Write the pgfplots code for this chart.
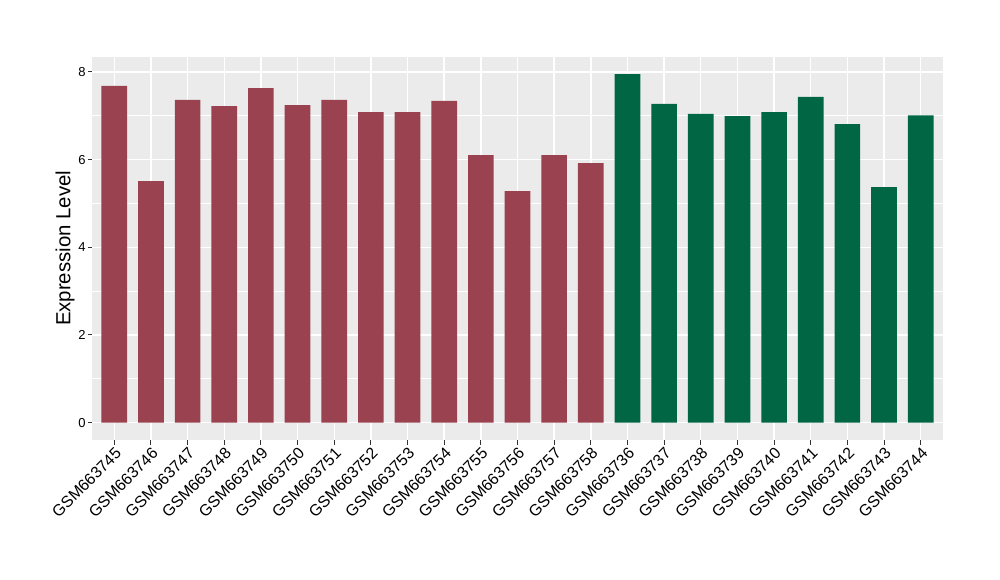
\documentclass[border=0pt]{standalone}
\usepackage{pgfplots}
\pgfplotsset{compat=1.18}
\usepackage{fontspec}
\setmainfont{Liberation Sans}
\definecolor{ggbg}{HTML}{EBEBEB}
\definecolor{barred}{HTML}{9A4250}
\definecolor{bargreen}{HTML}{006644}
\definecolor{tickgrey}{HTML}{333333}
\begin{document}
\begin{tikzpicture}
\useasboundingbox (-69.225pt,-105pt) rectangle (680.775pt,330pt);
\begin{axis}[
  at={(0,0)}, anchor=south west,
  scale only axis,
  width=637.8pt, height=287.5pt,
  xmin=0.4, xmax=23.6,
  ymin=-0.3975, ymax=8.3475,
  ybar, bar width=0.7, bar shift=0pt,
  axis background/.style={fill=ggbg},
  axis line style={draw=none},
  xtick={1,...,23},
  xticklabels={GSM663745,GSM663746,GSM663747,GSM663748,GSM663749,GSM663750,GSM663751,GSM663752,GSM663753,GSM663754,GSM663755,GSM663756,GSM663757,GSM663758,GSM663736,GSM663737,GSM663738,GSM663739,GSM663740,GSM663741,GSM663742,GSM663743,GSM663744},
  ytick={0,2,4,6,8},
  minor ytick={1,3,5,7},
  xmajorgrids, ymajorgrids, yminorgrids,
  major grid style={white, line width=1.05pt},
  minor grid style={white, line width=0.53pt},
  tick pos=left,
  tick align=outside,
  major tick length=3.4pt,
  minor tick length=0pt,
  tick style={tickgrey, line width=0.8pt},
  x tick label style={font=\fontsize{12}{12}\selectfont, rotate=45, anchor=north east, inner sep=1pt},
  y tick label style={font=\fontsize{9.75}{10}\selectfont, inner sep=1.5pt},
  /pgf/number format/assume math mode=true,
  ylabel={Expression Level},
  every axis y label/.style={at={(axis description cs:-0.0321,0.5)}, rotate=90, anchor=center, font=\fontsize{15.3}{16}\selectfont},
]
\addplot[fill=barred, draw=none] coordinates {
(1,7.68) (2,5.51) (3,7.36) (4,7.22) (5,7.63) (6,7.24) (7,7.36)
(8,7.08) (9,7.08) (10,7.34) (11,6.10) (12,5.28) (13,6.10) (14,5.92)};
\addplot[fill=bargreen, draw=none] coordinates {
(15,7.95) (16,7.27) (17,7.04) (18,6.99) (19,7.08) (20,7.43) (21,6.81) (22,5.37) (23,7.01)};
\end{axis}
\end{tikzpicture}
\end{document}
